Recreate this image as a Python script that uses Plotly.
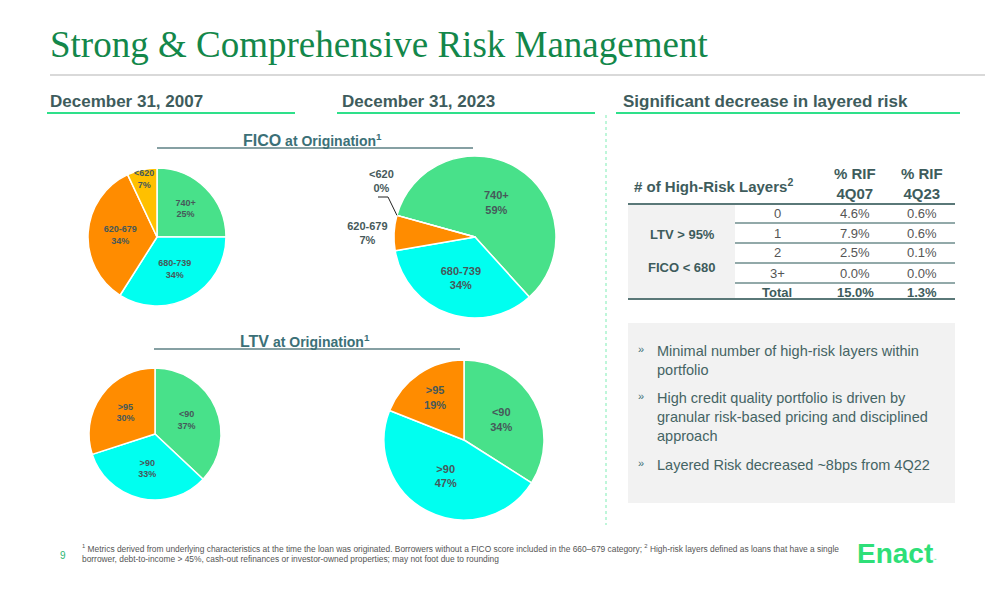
import math
import plotly.graph_objects as go

# ---------------- data ----------------
fico_labels = ['740+', '680-739', '620-679', '<620']
fico_2007 = [25, 34, 34, 7]
fico_2023 = [59, 34, 7, 0]

ltv_labels = ['<90', '>90', '>95']
ltv_2007 = [37, 33, 30]
ltv_2023 = [34, 47, 19]

table_layers = ['0', '1', '2', '3+', 'Total']
rif_4q07 = ['4.6%', '7.9%', '2.5%', '0.0%', '15.0%']
rif_4q23 = ['0.6%', '0.6%', '0.1%', '0.0%', '1.3%']

bullets = [
    'Minimal number of high-risk layers within<br>portfolio',
    'High credit quality portfolio is driven by<br>granular risk-based pricing and disciplined<br>approach',
    'Layered Risk decreased ~8bps from 4Q22',
]

# ---------------- styling ----------------
W, H = 1008, 612
GREEN = '#48E18A'
CYAN = '#00FFF0'
ORANGE = '#FF8C00'
YELLOW = '#FFC000'
SLATE = '#3E5C5C'
TEAL = '#3B7077'
LABEL = '#46595A'
SANS = 'Liberation Sans, Arial, sans-serif'


def px(x):
    return x / W


def py(y):
    return 1 - y / H


def dom(cx, cy, r):
    return dict(x=[px(cx - r), px(cx + r)], y=[py(cy + r), py(cy - r)])


fig = go.Figure()
shapes = []
ann = []

pies = [
    # values, labels, colors, center, radius, rotation, font size, textpositions
    (fico_2007, fico_labels, [GREEN, CYAN, ORANGE, YELLOW], (157, 237), 69, 0, 9,
     ['inside', 'inside', 'inside', 'none']),
    (fico_2023, fico_labels, [GREEN, CYAN, ORANGE, YELLOW], (475, 237), 81, -74.5, 11,
     ['inside', 'inside', 'outside', 'none']),
    (ltv_2007, ltv_labels, [GREEN, CYAN, ORANGE], (155, 434), 66, 0, 9,
     ['inside', 'inside', 'inside']),
    (ltv_2023, ltv_labels, [GREEN, CYAN, ORANGE], (464, 440), 80, 0, 11,
     ['inside', 'inside', 'inside']),
]
for vals, labs, cols, (cx, cy), r, rot, fs, tpos in pies:
    fig.add_trace(go.Pie(
        values=vals, labels=labs, sort=False, direction='clockwise', rotation=rot,
        domain=dom(cx, cy, r), marker=dict(colors=cols, line=dict(color='white', width=1.5)),
        texttemplate='<b>%{label}<br>%{value}%</b>', textposition=tpos,
        insidetextorientation='horizontal',
        textfont=dict(family=SANS, size=fs, color=LABEL),
        hoverinfo='skip', showlegend=False,
    ))

# label of the thin <620 slice in FICO 2007, placed at its mid-angle near the rim
cx, cy, r = 157, 237, 69
tot = sum(fico_2007)
mid = 360.0 * (sum(fico_2007[:3]) + fico_2007[3] / 2) / tot
lx = cx + 0.86 * r * math.sin(math.radians(mid))
ly = cy - 0.86 * r * math.cos(math.radians(mid))
ann.append(dict(x=px(lx), y=py(ly), xanchor='center', yanchor='middle',
                text='<b>' + fico_labels[3] + '<br>' + str(fico_2007[3]) + '%</b>',
                font=dict(family=SANS, size=9, color=LABEL)))

# leader for the 0% slice of FICO 2023 (point on pie boundary computed from data)
cx, cy, r, rot = 475, 237, 81, -74.5
ang = math.radians(rot)
bx, by = cx + r * math.sin(ang), cy - r * math.cos(ang)
shapes.append(dict(type='path', path='M {} {} L {} {} L {} {}'.format(
    px(378), py(197), px(388), py(197), px(bx), py(by)),
    line=dict(color='#222222', width=1)))
ann.append(dict(x=px(381), y=py(181), xanchor='center', yanchor='middle',
                text='<b>' + fico_labels[3] + '<br>' + str(fico_2023[3]) + '%</b>',
                font=dict(family=SANS, size=11, color=LABEL)))

# title
ann.append(dict(x=px(48), y=py(45), xanchor='left', yanchor='middle',
                text='Strong &amp; Comprehensive Risk Management',
                font=dict(family='Liberation Serif, Times New Roman, serif', size=37, color='#13874A')))
shapes.append(dict(type='line', x0=px(50), x1=px(985), y0=py(75), y1=py(75),
                   line=dict(color='#D9D9D9', width=2)))

# section headers
for text, x, x0, x1 in [('December 31, 2007', 48, 47, 295),
                        ('December 31, 2023', 340, 337, 595),
                        ('Significant decrease in layered risk', 621, 616, 960)]:
    ann.append(dict(x=px(x), y=py(102), xanchor='left', yanchor='middle', text='<b>' + text + '</b>',
                    font=dict(family=SANS, size=17, color=SLATE)))
    shapes.append(dict(type='line', x0=px(x0), x1=px(x1), y0=py(113), y1=py(113),
                       line=dict(color='#2EE08A', width=2)))

# dotted separator
shapes.append(dict(type='line', x0=px(606), x1=px(606), y0=py(115), y1=py(525),
                   line=dict(color='#7EEDB4', width=1, dash='dot')))

# pie sub-headers
for name, cx, cy, x0, x1 in [('FICO', 312, 140, 157, 473), ('LTV', 305, 341, 154, 460)]:
    ann.append(dict(x=px(cx), y=py(cy), xanchor='center', yanchor='middle',
                    text='<b><span style="font-size:16px">' + name + '</span> at Origination<sup>1</sup></b>',
                    font=dict(family=SANS, size=14, color=TEAL)))
    shapes.append(dict(type='line', x0=px(x0), x1=px(x1), y0=py(cy + 8), y1=py(cy + 8),
                       line=dict(color='#5E8084', width=1.5)))

# ---------------- table ----------------
shapes.append(dict(type='rect', x0=px(628), x1=px(735), y0=py(204), y1=py(299),
                   fillcolor='#F2F2F2', line=dict(width=0), layer='below'))
ann.append(dict(x=px(632), y=py(185), xanchor='left', yanchor='middle',
                text='<b># of High-Risk Layers<sup>2</sup></b>',
                font=dict(family=SANS, size=15, color=SLATE)))
for xc, q in [(855, '4Q07'), (922, '4Q23')]:
    ann.append(dict(x=px(xc), y=py(183), xanchor='center', yanchor='middle',
                    text='<b>% RIF<br>' + q + '</b>',
                    font=dict(family=SANS, size=15, color=SLATE)))
shapes.append(dict(type='line', x0=px(628), x1=px(955), y0=py(204), y1=py(204),
                   line=dict(color='#5A7878', width=2)))
shapes.append(dict(type='line', x0=px(628), x1=px(955), y0=py(299), y1=py(299),
                   line=dict(color='#5A7878', width=2)))
for ysep in [223, 243, 263, 283]:
    shapes.append(dict(type='line', x0=px(735), x1=px(955), y0=py(ysep), y1=py(ysep),
                       line=dict(color='#6E8C8C', width=1.5)))
row_y = [213, 233, 253, 273, 292]
for i, yc in enumerate(row_y):
    bold = table_layers[i] == 'Total'
    for xc, txt in [(777, table_layers[i]), (855, rif_4q07[i]), (922, rif_4q23[i])]:
        ann.append(dict(x=px(xc), y=py(yc), xanchor='center', yanchor='middle',
                        text=('<b>' + txt + '</b>') if bold else txt,
                        font=dict(family=SANS, size=13, color=SLATE if bold else '#555555')))
ann.append(dict(x=px(682), y=py(235), xanchor='center', yanchor='middle', text='<b>LTV &gt; 95%</b>',
                font=dict(family=SANS, size=13, color=SLATE)))
ann.append(dict(x=px(682), y=py(267), xanchor='center', yanchor='middle', text='<b>FICO &lt; 680</b>',
                font=dict(family=SANS, size=13, color=SLATE)))

# ---------------- bullet box ----------------
shapes.append(dict(type='rect', x0=px(628), x1=px(955), y0=py(323), y1=py(503),
                   fillcolor='#F2F2F2', line=dict(width=0), layer='below'))
bullet_top = [341, 388, 455]
for txt, yt in zip(bullets, bullet_top):
    ann.append(dict(x=px(636), y=py(yt), xanchor='left', yanchor='top', text='»',
                    font=dict(family=SANS, size=11, color=TEAL)))
    ann.append(dict(x=px(655), y=py(yt), xanchor='left', yanchor='top', text=txt, align='left',
                    font=dict(family=SANS, size=14.5, color='#456464')))

# ---------------- footer ----------------
ann.append(dict(x=px(63), y=py(555), xanchor='center', yanchor='middle', text='9',
                font=dict(family=SANS, size=10, color='#2BB673')))
ann.append(dict(x=px(80), y=py(553), xanchor='left', yanchor='middle', align='left',
                text='<sup>1</sup> Metrics derived from underlying characteristics at the time the loan was originated. '
                     'Borrowers without a FICO score included in the 660–679 category; <sup>2</sup> High-risk layers '
                     'defined as loans that have a single<br>borrower, debt-to-income &gt; 45%, cash-out refinances '
                     'or investor-owned properties; may not foot due to rounding',
                font=dict(family=SANS, size=8.4, color='#555555')))
ann.append(dict(x=px(855), y=py(553), xanchor='left', yanchor='middle',
                text='<b>Enact</b><span style="font-size:5px"><sup>™</sup></span>',
                font=dict(family=SANS, size=28, color='#2EDF78')))

for s in shapes:
    s.setdefault('xref', 'paper')
    s.setdefault('yref', 'paper')
for a in ann:
    a.setdefault('xref', 'paper')
    a.setdefault('yref', 'paper')
    a['showarrow'] = False

fig.update_layout(
    width=W, height=H, margin=dict(l=0, r=0, t=0, b=0),
    paper_bgcolor='white', plot_bgcolor='white',
    shapes=shapes, annotations=ann,
)

fig.write_html('out.html', config={'displayModeBar': False},
               post_script="document.body.style.margin='0';document.body.style.overflow='hidden';")
